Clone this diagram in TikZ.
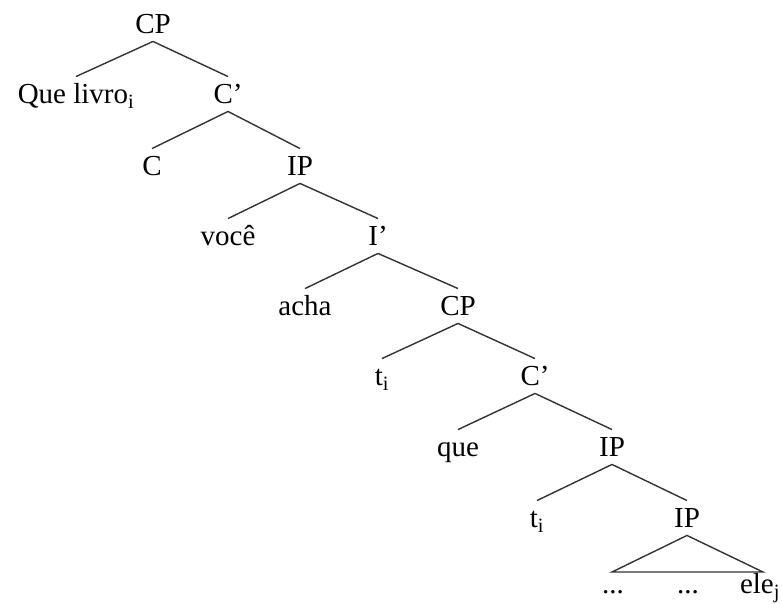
\documentclass[tikz,border=0pt]{standalone}
\usepackage{fontspec}
\setmainfont{Liberation Serif}
\begin{document}
\begin{tikzpicture}[x=1pt,y=-1pt,
  lab/.style={font=\fontsize{29}{31}\selectfont, text height=18.5pt, text depth=0pt, inner ysep=8pt, inner xsep=0pt},
  br/.style={draw=black!80, line width=1.4pt}]
\useasboundingbox (0,0) rectangle (782,603);
% level 0
\node[lab] (cp1) at (153,24) {CP};
% level 1
\node[lab] (que) at (76,94) {Que livro\textsubscript{i}};
\node[lab] (cb1) at (228,94) {C'};
% level 2
\node[lab] (c) at (152,166) {C};
\node[lab] (ip1) at (300,166) {IP};
% level 3
\node[lab] (voce) at (228,236) {você};
\node[lab] (ib) at (378,236) {I'};
% level 4
\node[lab] (acha) at (305,306) {acha};
\node[lab] (cp2) at (458,306) {CP};
% level 5
\node[lab] (t1) at (382,376) {t\textsubscript{i}};
\node[lab] (cb2) at (535,376) {C'};
% level 6
\node[lab] (que2) at (458,447) {que};
\node[lab] (ip2) at (612,447) {IP};
% level 7
\node[lab] (t2) at (537,518) {t\textsubscript{i}};
\node[lab] (ip3) at (687,518) {IP};
% level 8
\coordinate (tl) at (612,572);
\coordinate (tr) at (763,572);
\node[lab] (d1) at (613,584) {...};
\node[lab] (d2) at (688,584) {...};
\node[lab] (ele) at (760,584) {ele\textsubscript{j}};
% branches
\draw[br] (cp1.south) -- (que.north);
\draw[br] (cp1.south) -- (cb1.north);
\draw[br] (cb1.south) -- (c.north);
\draw[br] (cb1.south) -- (ip1.north);
\draw[br] (ip1.south) -- (voce.north);
\draw[br] (ip1.south) -- (ib.north);
\draw[br] (ib.south) -- (acha.north);
\draw[br] (ib.south) -- (cp2.north);
\draw[br] (cp2.south) -- (t1.north);
\draw[br] (cp2.south) -- (cb2.north);
\draw[br] (cb2.south) -- (que2.north);
\draw[br] (cb2.south) -- (ip2.north);
\draw[br] (ip2.south) -- (t2.north);
\draw[br] (ip2.south) -- (ip3.north);
\draw[br] (ip3.south) -- (tl) -- (tr) -- cycle;
\end{tikzpicture}
\end{document}
